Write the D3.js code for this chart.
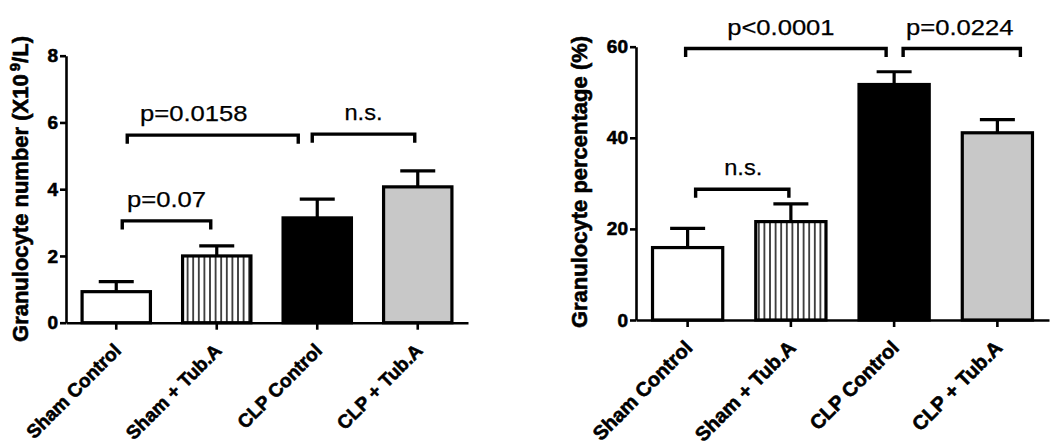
<!DOCTYPE html>
<html>
<head>
<meta charset="utf-8">
<script src="https://cdn.jsdelivr.net/npm/d3@7"></script>
<style>
  html, body { margin: 0; padding: 0; background: #fff; }
  svg { display: block; }
  text { font-family: "Liberation Sans", Arial, Helvetica, sans-serif; fill: #000; }
  .heavy { stroke: #000; stroke-width: 0.6px; }
  .pval { stroke: #000; stroke-width: 0.25px; }
</style>
</head>
<body>
<svg id="chart" width="1050" height="448"></svg>
<script>
// ---------- DATA ----------
const categories = ["Sham Control", "Sham + Tub.A", "CLP Control", "CLP + Tub.A"];
const countMean = [0.93, 2.0, 3.14, 4.07];
const countSEM  = [0.30, 0.30, 0.56, 0.48];
const pctMean   = [15.9, 21.6, 51.7, 41.1];
const pctSEM    = [4.2, 3.9, 2.8, 2.9];
const countTicks = [0, 2, 4, 6, 8];
const pctTicks   = [0, 20, 40, 60];
const countBrackets = [
  { from: 0, to: 1, label: "p=0.07",   y: 3.05 },
  { from: 0, to: 2, label: "p=0.0158", y: 5.62 },
  { from: 2, to: 3, label: "n.s.",     y: 5.65 }
];
const pctBrackets = [
  { from: 0, to: 2, label: "p<0.0001", y: 59.6 },
  { from: 2, to: 3, label: "p=0.0224", y: 59.6 },
  { from: 0, to: 1, label: "n.s.",     y: 28.7 }
];

// ---------- LAYOUT / STYLE ----------
const fills = ["#ffffff", "url(#vhatch)", "#000000", "#c8c8c8"];
const panels = [
  {
    mean: countMean, sem: countSEM, ticks: countTicks, brackets: countBrackets,
    domain: [0, 8], xr: [66, 468], yr: [322.7, 55.7],
    ylabelX: 28, ylabelY: 189, catFont: 19,
    nudge: [[6, -6, 0], [11, -19, -19], [-5, -3, 0]],
    ylabel: "count"
  },
  {
    mean: pctMean, sem: pctSEM, ticks: pctTicks, brackets: pctBrackets,
    domain: [0, 60], xr: [636, 1049], yr: [320, 46.7],
    ylabelX: 587, ylabelY: 182, catFont: 20,
    nudge: [[-2, -8, -5], [9, 23, -2], [8, -2, 1]],
    ylabel: "pct"
  }
];

const svg = d3.select("#chart");
const defs = svg.append("defs");
const pat = defs.append("pattern")
  .attr("id", "vhatch").attr("patternUnits", "userSpaceOnUse")
  .attr("width", 5.6).attr("height", 10);
pat.append("rect").attr("width", 5.6).attr("height", 10).attr("fill", "#fff");
pat.append("line").attr("x1", 2.8).attr("x2", 2.8).attr("y1", 0).attr("y2", 10)
  .attr("stroke", "#000").attr("stroke-width", 1.4);

panels.forEach(p => {
  const g = svg.append("g");
  const x = d3.scaleBand().domain(categories).range(p.xr)
    .paddingInner(0.32).paddingOuter(0.16);
  const y = d3.scaleLinear().domain(p.domain).range(p.yr);
  const cx = i => x(categories[i]) + x.bandwidth() / 2;

  // bars
  g.selectAll("rect.bar").data(p.mean).join("rect")
    .attr("class", "bar")
    .attr("x", (d, i) => x(categories[i]))
    .attr("y", d => y(d))
    .attr("width", x.bandwidth())
    .attr("height", d => y(0) - y(d))
    .attr("fill", (d, i) => fills[i])
    .attr("stroke", "#000").attr("stroke-width", 3.2);

  // error bars (upper only)
  const capHalf = 17.5;
  p.mean.forEach((m, i) => {
    const top = y(m + p.sem[i]);
    g.append("line").attr("x1", cx(i)).attr("x2", cx(i))
      .attr("y1", y(m)).attr("y2", top)
      .attr("stroke", "#000").attr("stroke-width", 3.2);
    g.append("line").attr("x1", cx(i) - capHalf).attr("x2", cx(i) + capHalf)
      .attr("y1", top).attr("y2", top)
      .attr("stroke", "#000").attr("stroke-width", 3.2);
  });

  // y axis
  const ya = g.append("g").attr("transform", `translate(${p.xr[0]},0)`)
    .call(d3.axisLeft(y).tickValues(p.ticks).tickSize(6).tickSizeOuter(0).tickPadding(2));
  ya.select(".domain").attr("stroke", "#000").attr("stroke-width", 2.6);
  ya.selectAll(".tick line").attr("stroke", "#000").attr("stroke-width", 2.6);
  ya.selectAll(".tick text").attr("font-size", 19).attr("font-weight", "bold")
    .attr("class", "heavy")
    .attr("font-family", "Liberation Sans, Arial, sans-serif").attr("fill", "#000");

  // x axis
  const xa = g.append("g").attr("transform", `translate(0,${y(0)})`)
    .call(d3.axisBottom(x).tickSize(7).tickSizeOuter(0));
  xa.select(".domain").attr("stroke", "#000").attr("stroke-width", 2.6);
  xa.selectAll(".tick line").attr("stroke", "#000").attr("stroke-width", 2.6);
  xa.selectAll(".tick text").remove();
  categories.forEach((c, i) => {
    g.append("text")
      .attr("class", "heavy")
      .attr("transform", `translate(${cx(i) + 6},${y(0) + 29}) rotate(-45)`)
      .attr("text-anchor", "end")
      .attr("font-size", p.catFont).attr("font-weight", "bold")
      .text(c);
  });

  // y label
  const yl = g.append("text")
    .attr("class", "heavy")
    .attr("transform", `translate(${p.ylabelX},${p.ylabelY}) rotate(-90)`)
    .attr("text-anchor", "middle")
    .attr("font-size", 22).attr("font-weight", "bold");
  if (p.ylabel === "count") {
    yl.append("tspan").text("Granulocyte number (X10");
    yl.append("tspan").attr("dx", 3).attr("dy", -8).attr("font-size", 15).text("9");
    yl.append("tspan").attr("dy", 8).text("/L)");
  } else {
    yl.text("Granulocyte percentage (%)");
  }

  // significance brackets
  p.brackets.forEach((b, k) => {
    const [n1, n2, tdx] = p.nudge[k];
    const x1 = cx(b.from) + n1, x2 = cx(b.to) + n2, by = y(b.y);
    g.append("path")
      .attr("d", `M${x1},${by + 8.5}V${by}H${x2}V${by + 8.5}`)
      .attr("fill", "none").attr("stroke", "#000").attr("stroke-width", 3.4)
      .attr("stroke-linejoin", "miter");
    const t = g.append("text")
      .attr("class", "pval")
      .attr("x", (x1 + x2) / 2 + tdx).attr("y", by - 14)
      .attr("text-anchor", "middle")
      .attr("font-size", 21.5)
      .text(b.label);
    const w = t.node().getComputedTextLength();
    const stretch = b.label === "n.s." ? 1.1 : 1.19;
    t.attr("textLength", w * stretch).attr("lengthAdjust", "spacingAndGlyphs");
  });
});
</script>
</body>
</html>
